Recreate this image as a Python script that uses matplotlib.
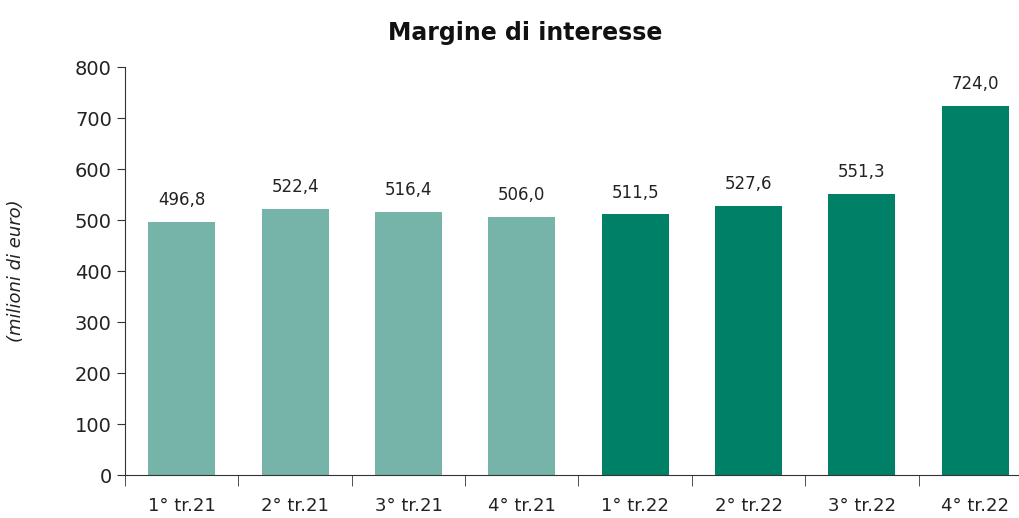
import numpy as np
import matplotlib
matplotlib.use('agg')
import matplotlib.pyplot as plt

# data
categories = ["1° tr.21", "2° tr.21", "3° tr.21", "4° tr.21",
              "1° tr.22", "2° tr.22", "3° tr.22", "4° tr.22"]
values = [496.8, 522.4, 516.4, 506.0, 511.5, 527.6, 551.3, 724.0]
bar_colors = ["#76b3a9"] * 4 + ["#008066"] * 4

plt.rcParams.update({"font.family": "DejaVu Sans"})

fig = plt.figure(figsize=(10.19, 5.18), dpi=100)
ax = fig.add_axes([0.1227, 0.083, 0.890, 0.7876])

x = np.arange(len(categories))
ax.bar(x, values, width=0.59, color=bar_colors)

for xi, v in zip(x, values):
    ax.annotate(f"{v:.1f}".replace(".", ","), (xi, v), xytext=(0, 9),
                textcoords="offset points", ha="center", va="bottom",
                fontsize=12, color="#222222")

ax.set_xlim(-0.5, len(categories) - 0.5)
ax.set_ylim(0, 800)
ax.set_yticks(range(0, 801, 100))
ax.tick_params(axis="y", labelsize=14, length=6, color="#333333", labelcolor="#222222")

ax.set_xticks(x)
ax.set_xticklabels(categories)
ax.set_xticks(np.arange(-0.5, len(categories), 1), minor=True)
ax.tick_params(axis="x", which="major", length=0, pad=16, labelsize=13, labelcolor="#222222")
ax.tick_params(axis="x", which="minor", length=8, color="#333333")

for s in ["top", "right"]:
    ax.spines[s].set_visible(False)
for s in ["left", "bottom"]:
    ax.spines[s].set_color("#333333")

ax.set_ylabel("(milioni di euro)", fontsize=13, style="italic", labelpad=36, color="#222222")
fig.text(0.515, 0.937, "Margine di interesse", ha="center", va="center",
         fontsize=17, fontweight="bold", color="#111111")

fig.savefig("out.png", dpi=100)
